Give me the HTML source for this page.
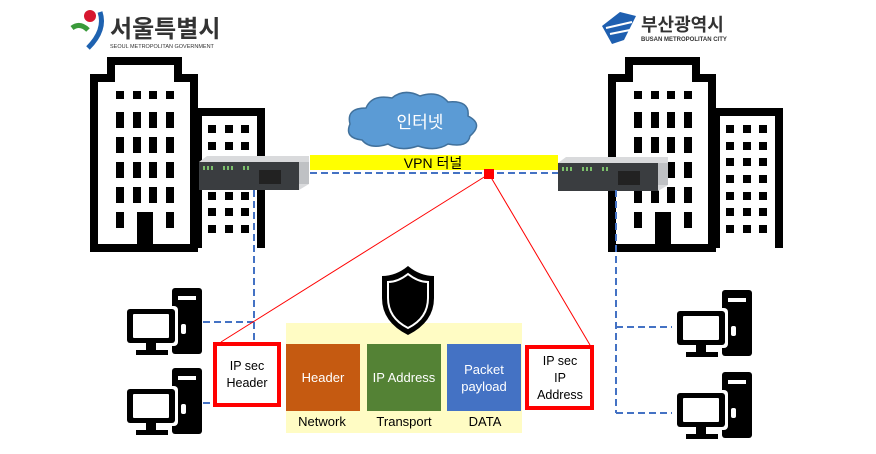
<!DOCTYPE html>
<html><head><meta charset="utf-8"><style>
body{margin:0;background:#fff;}
svg{display:block;font-family:"Liberation Sans","Noto Sans CJK KR",sans-serif;}
</style></head><body>
<svg width="876" height="454" viewBox="0 0 876 454" xmlns="http://www.w3.org/2000/svg">
<defs>
<g id="bldgL">
  <path d="M94 248 V78 H111 V61 H178 V78 H194 V248 Z" fill="none" stroke="#000" stroke-width="8"/>
  <path d="M198 248 V112 H261 V248" fill="none" stroke="#000" stroke-width="8"/>
  <g fill="#000">
    <rect x="116" y="91" width="8" height="8"/><rect x="133" y="91" width="8" height="8"/><rect x="149" y="91" width="8" height="8"/><rect x="166" y="91" width="8" height="8"/>
    <rect x="116" y="112" width="8" height="16"/><rect x="133" y="112" width="8" height="16"/><rect x="149" y="112" width="8" height="16"/><rect x="166" y="112" width="8" height="16"/>
    <rect x="116" y="137" width="8" height="16"/><rect x="133" y="137" width="8" height="16"/><rect x="149" y="137" width="8" height="16"/><rect x="166" y="137" width="8" height="16"/>
    <rect x="116" y="162" width="8" height="16"/><rect x="133" y="162" width="8" height="16"/><rect x="149" y="162" width="8" height="16"/><rect x="166" y="162" width="8" height="16"/>
    <rect x="116" y="187" width="8" height="16"/><rect x="133" y="187" width="8" height="16"/><rect x="149" y="187" width="8" height="16"/><rect x="166" y="187" width="8" height="16"/>
    <rect x="116" y="212" width="8" height="16"/><rect x="166" y="212" width="8" height="16"/>
    <rect x="137" y="212" width="16" height="36"/>
    <rect x="208" y="125" width="8" height="8"/><rect x="225" y="125" width="8" height="8"/><rect x="241" y="125" width="8" height="8"/>
    <rect x="208" y="142" width="8" height="8"/><rect x="225" y="142" width="8" height="8"/><rect x="241" y="142" width="8" height="8"/>
    <rect x="208" y="158" width="8" height="8"/><rect x="225" y="158" width="8" height="8"/><rect x="241" y="158" width="8" height="8"/>
    <rect x="208" y="175" width="8" height="8"/><rect x="225" y="175" width="8" height="8"/><rect x="241" y="175" width="8" height="8"/>
    <rect x="208" y="192" width="8" height="8"/><rect x="225" y="192" width="8" height="8"/><rect x="241" y="192" width="8" height="8"/>
    <rect x="208" y="208" width="8" height="8"/><rect x="225" y="208" width="8" height="8"/><rect x="241" y="208" width="8" height="8"/>
    <rect x="208" y="225" width="8" height="8"/><rect x="225" y="225" width="8" height="8"/><rect x="241" y="225" width="8" height="8"/>
  </g>
</g>
<g id="server">
  <path d="M0 6 L8 0 H110 L110 28 L100 34 H0 Z" fill="#d9dadc"/>
  <rect x="0" y="6" width="100" height="28" fill="#3a3d40"/>
  <g fill="#7cc06b"><rect x="4" y="10" width="2" height="4"/><rect x="8" y="10" width="2" height="4"/><rect x="12" y="10" width="2" height="4"/><rect x="24" y="10" width="2" height="4"/><rect x="28" y="10" width="2" height="4"/><rect x="32" y="10" width="2" height="4"/><rect x="44" y="10" width="2" height="4"/><rect x="48" y="10" width="2" height="4"/></g>
  <rect x="60" y="14" width="22" height="14" fill="#222"/>
  <rect x="100" y="6" width="10" height="22" fill="#bfc1c4"/>
</g>
<g id="pc">
  <rect x="48" y="0" width="30" height="66" rx="3" fill="#000"/>
  <rect x="54" y="8" width="18" height="4" fill="#fff"/>
  <rect x="57" y="36" width="5" height="10" rx="2" fill="#fff"/>
  <rect x="0" y="18" width="54" height="40" rx="4" fill="#fff"/>
  <rect x="3" y="21" width="48" height="34" rx="3" fill="#000"/>
  <rect x="9" y="26" width="36" height="24" rx="1" fill="#fff"/>
  <rect x="22" y="55" width="10" height="8" fill="#000"/>
  <rect x="12" y="62" width="32" height="5" fill="#000"/>
</g>
</defs>

<!-- Seoul logo -->
<circle cx="90" cy="16" r="6" fill="#d7172f"/>
<path d="M72 28 Q80 22 88 30" stroke="#3a9a3a" stroke-width="5" fill="none"/>
<path d="M100 12 Q106 30 88 48" stroke="#1e62b0" stroke-width="5" fill="none"/>
<text x="110" y="37" font-size="24" font-weight="bold" fill="#333">서울특별시</text>
<text x="110" y="48" font-size="5.5" fill="#333">SEOUL METROPOLITAN GOVERNMENT</text>

<!-- Busan logo -->
<path d="M602 26 L620 12 L636 16 L624 40 L612 44 Z" fill="#1e5fb0"/>
<path d="M606 28 L632 22 M610 34 L630 30" stroke="#fff" stroke-width="2"/>
<text x="641" y="31" font-size="18" font-weight="bold" fill="#333">부산광역시</text>
<text x="641" y="41" font-size="6" font-weight="bold" fill="#333">BUSAN METROPOLITAN CITY</text>

<use href="#bldgL"/>
<use href="#bldgL" transform="translate(518,0)"/>

<!-- cloud -->
<path d="M362 140 Q344 138 350 124 Q346 108 366 108 Q372 94 392 98 Q404 88 420 96 Q438 90 448 102 Q470 100 468 116 Q484 124 470 136 Q468 148 448 144 Q436 152 418 146 Q400 152 388 144 Q370 150 362 140 Z" fill="#5b9bd5" stroke="#41719c" stroke-width="1.5"/>
<text x="420" y="128" font-size="17" fill="#fff" text-anchor="middle">인터넷</text>

<!-- VPN tunnel -->
<rect x="310" y="155" width="248" height="15" fill="#ffff00"/>
<text x="433" y="168" font-size="14" fill="#000" text-anchor="middle">VPN 터널</text>
<line x1="310" y1="173" x2="558" y2="173" stroke="#4472c4" stroke-width="2" stroke-dasharray="7,4"/>

<use href="#server" transform="translate(199,156)"/>
<use href="#server" transform="translate(558,157)"/>

<!-- dashed connectors -->
<g stroke="#4472c4" stroke-width="2" stroke-dasharray="7,4" fill="none">
<line x1="254" y1="190" x2="254" y2="345"/>
<line x1="203" y1="322" x2="254" y2="322"/>
<line x1="203" y1="403" x2="214" y2="403"/>
<line x1="616" y1="190" x2="616" y2="413"/>
<line x1="616" y1="327" x2="672" y2="327"/>
<line x1="616" y1="413" x2="672" y2="413"/>
</g>

<use href="#pc" transform="translate(124,288)"/>
<use href="#pc" transform="translate(124,368)"/>
<use href="#pc" transform="translate(674,290)"/>
<use href="#pc" transform="translate(674,372)"/>

<!-- red lines -->
<line x1="489" y1="174" x2="221" y2="342" stroke="#f00" stroke-width="1"/>
<line x1="489" y1="174" x2="590" y2="345" stroke="#f00" stroke-width="1"/>
<rect x="484" y="169" width="10" height="10" fill="#f00"/>

<!-- packet -->
<rect x="286" y="323" width="236" height="110" fill="#fffcc4"/>
<rect x="286" y="344" width="74" height="67" fill="#c55a11"/>
<rect x="367" y="344" width="74" height="67" fill="#548235"/>
<rect x="447" y="344" width="74" height="67" fill="#4472c4"/>
<g font-size="13" fill="#fff" text-anchor="middle">
<text x="323" y="382">Header</text>
<text x="404" y="382">IP Address</text>
<text x="484" y="374">Packet</text>
<text x="484" y="391">payload</text>
</g>
<g font-size="13" fill="#000" text-anchor="middle">
<text x="322" y="426">Network</text>
<text x="404" y="426">Transport</text>
<text x="485" y="426">DATA</text>
</g>

<!-- shield -->
<path d="M408 266 Q396 276 382 276 V298 Q382 322 408 335 Q434 322 434 298 V276 Q420 276 408 266 Z" fill="#000"/>
<path d="M408 274 Q398 282 388 282 V298 Q388 318 408 328 Q428 318 428 298 V282 Q418 282 408 274 Z" fill="none" stroke="#fff" stroke-width="2"/>

<!-- IPsec boxes -->
<rect x="215" y="344" width="64" height="61" fill="#fff" stroke="#f00" stroke-width="4"/>
<text x="247" y="370" font-size="12.5" text-anchor="middle">IP sec</text>
<text x="247" y="387" font-size="12.5" text-anchor="middle">Header</text>
<rect x="527" y="347" width="65" height="61" fill="#fff" stroke="#f00" stroke-width="4"/>
<text x="560" y="365" font-size="12.5" text-anchor="middle">IP sec</text>
<text x="560" y="382" font-size="12.5" text-anchor="middle">IP</text>
<text x="560" y="399" font-size="12.5" text-anchor="middle">Address</text>
</svg>
</body></html>
